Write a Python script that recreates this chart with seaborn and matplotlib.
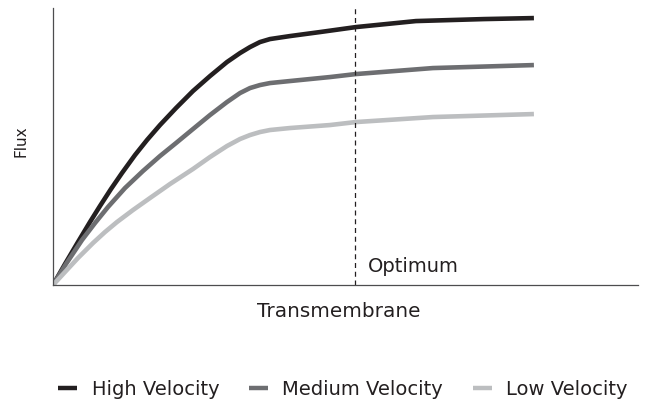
import pandas as pd
import matplotlib.pyplot as plt
import seaborn as sns
from matplotlib.lines import Line2D

# values (x and y in percent of the axis range)
high_x = [0, 2.05, 4.27, 6.32, 8.03, 9.91, 11.79, 14.02, 16.07, 18.29, 21.03, 23.93,
          26.84, 29.74, 31.97, 33.68, 35.38, 37.09, 40.51, 45.64, 51.79, 62.05, 73.68, 82.22]
high_y = [0, 7.58, 15.52, 22.74, 28.52, 34.66, 40.43, 46.93, 52.35, 57.76, 63.90, 70.04,
          75.45, 80.51, 83.75, 85.92, 87.73, 88.81, 89.89, 91.34, 93.14, 95.31, 96.03, 96.39]
med_x = [0, 2.22, 4.96, 7.18, 9.40, 12.31, 15.38, 18.29, 21.03, 23.93, 26.84, 29.74,
         31.97, 33.68, 35.38, 37.09, 40.51, 47.35, 51.79, 64.96, 82.22]
med_y = [0, 7.58, 16.25, 22.38, 28.16, 35.02, 41.16, 46.57, 51.26, 56.32, 61.37, 66.06,
         69.31, 71.12, 72.20, 72.92, 73.65, 75.09, 76.17, 78.34, 79.42]
low_x = [0, 2.05, 4.27, 6.84, 8.89, 10.94, 13.68, 16.58, 20.00, 23.93, 26.84, 29.74,
         31.97, 33.68, 35.38, 37.09, 40.51, 47.35, 51.79, 64.96, 82.22]
low_y = [0, 4.69, 9.75, 15.16, 19.13, 22.74, 27.08, 31.41, 36.46, 41.88, 46.21, 50.18,
         52.71, 54.15, 55.23, 55.96, 56.68, 57.76, 58.84, 60.65, 61.73]
series_names = ['High Velocity', 'Medium Velocity', 'Low Velocity']
series_colors = ['#231f20', '#6d6e71', '#bcbec0']
optimum_x = 51.6

sns.set_style('white')
plt.rcParams['font.family'] = ['DejaVu Sans']

frames = []
for name, xs, ys in zip(series_names, [high_x, med_x, low_x], [high_y, med_y, low_y]):
    frames.append(pd.DataFrame({'x': xs, 'y': ys, 'series': name}))
df = pd.concat(frames, ignore_index=True)

fig = plt.figure(figsize=(6.45, 4.04), dpi=100)
ax = fig.add_axes([0.0822, 0.2946, 0.9068, 0.6854])
sns.lineplot(data=df, x='x', y='y', hue='series', hue_order=series_names,
             palette=series_colors, linewidth=3.3, ax=ax, legend=False, sort=True,
             solid_capstyle='butt', solid_joinstyle='round')
ax.axvline(optimum_x, color='#231f20', linestyle=(0, (4, 3)), linewidth=0.9)
ax.text(optimum_x + 2.2, 4.8, 'Optimum', fontsize=14, color='#231f20',
        ha='left', va='baseline')

ax.set_xlim(0, 100)
ax.set_ylim(0, 100)
ax.set_xticks([])
ax.set_yticks([])
for side in ['top', 'right']:
    ax.spines[side].set_visible(False)
for side in ['left', 'bottom']:
    ax.spines[side].set_color('#4d4d4f')
    ax.spines[side].set_linewidth(0.9)
ax.set_xlabel('Transmembrane', fontsize=14.4, color='#231f20')
ax.xaxis.set_label_coords(0.488, -0.062)
ax.set_ylabel('Flux', fontsize=11, color='#231f20')
ax.yaxis.set_label_coords(-0.042, 0.52)

handles = [Line2D([0], [0], color=c, linewidth=3.2, solid_capstyle='butt')
           for c in series_colors]
fig.legend(handles, series_names, loc='center', bbox_to_anchor=(0.532, 0.037),
           ncol=3, frameon=False, fontsize=14, handlelength=0.95,
           handletextpad=0.75, columnspacing=1.55, labelcolor='#231f20')

fig.savefig('out.png', dpi=100)
